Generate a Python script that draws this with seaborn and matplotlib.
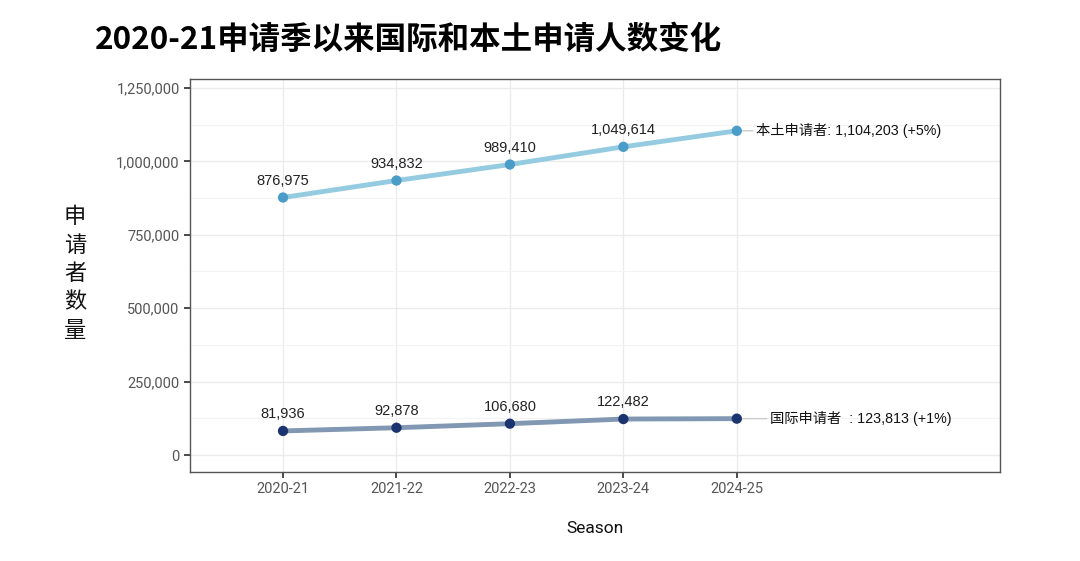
import pandas as pd
import numpy as np
import matplotlib.pyplot as plt
import matplotlib.ticker as mtick
import seaborn as sns

# ── Data ──────────────────────────────────────────────────────────────────────
seasons       = ['2020-21', '2021-22', '2022-23', '2023-24', '2024-25']
domestic      = [876975, 934832, 989410, 1049614, 1104203]
international = [81936, 92878, 106680, 122482, 123813]
end_labels    = ['本土申请者: 1,104,203 (+5%)', '国际申请者  : 123,813 (+1%)']

sns.set_theme(style='whitegrid')
plt.rcParams['font.family'] = ['Noto Sans CJK SC', 'DejaVu Sans']

df = pd.DataFrame({
    'Season': seasons * 2,
    'Count': domestic + international,
    'Group': ['domestic'] * 5 + ['international'] * 5,
})
df['x'] = df['Season'].map({s: i for i, s in enumerate(seasons)})

LINE_COL = {'domestic': '#95cbe0', 'international': '#8197b2'}
DOT_COL  = {'domestic': '#4a9cc9', 'international': '#1b3470'}
LABEL_FONT = ['Liberation Sans', 'Noto Sans CJK SC']

fig = plt.figure(figsize=(10.8, 5.61), dpi=100)
ax = fig.add_axes([190/1080, 1 - 472/561, 810/1080, 393/561])

sns.lineplot(data=df, x='x', y='Count', hue='Group', palette=LINE_COL,
             linewidth=3.5, ax=ax, legend=False)
sns.scatterplot(data=df, x='x', y='Count', hue='Group', palette=DOT_COL,
                s=55, edgecolor='none', zorder=5, ax=ax, legend=False)

# value labels above points (last point gets the side label instead)
for series in (domestic, international):
    for i, v in enumerate(series[:-1]):
        ax.annotate(f'{v:,}', (i, v), xytext=(0, 7), textcoords='offset points',
                    ha='center', va='bottom', fontsize=10.5, color='#222222',
                    family=LABEL_FONT)

# end labels with connector lines
last = len(seasons) - 1
ax.annotate(end_labels[0], (last, domestic[-1]), xytext=(14, 0),
            textcoords='offset points', ha='left', va='center', fontsize=10.3,
            color='#111111', family=LABEL_FONT,
            arrowprops=dict(arrowstyle='-', color='#cccccc', lw=1,
                            shrinkA=0, shrinkB=0))
ax.annotate(end_labels[1], (last, international[-1]), xytext=(24, 0),
            textcoords='offset points', ha='left', va='center', fontsize=10.3,
            color='#111111', family=LABEL_FONT,
            arrowprops=dict(arrowstyle='-', color='#cccccc', lw=1,
                            shrinkA=0, shrinkB=0))

# axes, ticks, grid
ax.set_xlim(-0.82, 6.32)
ax.set_ylim(-57900, 1280650)
ax.set_xticks(range(len(seasons)))
ax.set_xticklabels(seasons)
ax.set_yticks(np.arange(0, 1250001, 250000))
ax.yaxis.set_major_formatter(mtick.FuncFormatter(lambda v, _: f'{int(v):,}'))
ax.set_yticks(np.arange(125000, 1250000, 250000), minor=True)
ax.grid(which='major', color='#ebebeb', lw=1)
ax.grid(which='minor', axis='y', color='#f3f3f3', lw=0.8)
ax.tick_params(axis='both', which='major', labelsize=10.5, labelcolor='#555555',
               length=4, color='#333333', direction='out', bottom=True, left=True)
ax.tick_params(which='minor', length=0)
for lab in ax.get_xticklabels() + ax.get_yticklabels():
    lab.set_family('Roboto')
for sp in ax.spines.values():
    sp.set_color('#555555')
    sp.set_linewidth(1)

ax.set_xlabel('Season', fontsize=12.5, color='#111111', labelpad=18,
              family='Roboto')
ax.set_ylabel('申\n请\n者\n数\n量', fontsize=16, rotation=0, color='#111111',
              labelpad=0, linespacing=1.3, va='center', ha='center')
ax.yaxis.set_label_coords(-0.142, 0.505)

fig.text(95/1080, 1 - 40/561, '2020-21申请季以来国际和本土申请人数变化',
         fontsize=22.7, fontweight='bold', va='center', ha='left', color='#000000')

fig.savefig('out.png', dpi=100)
